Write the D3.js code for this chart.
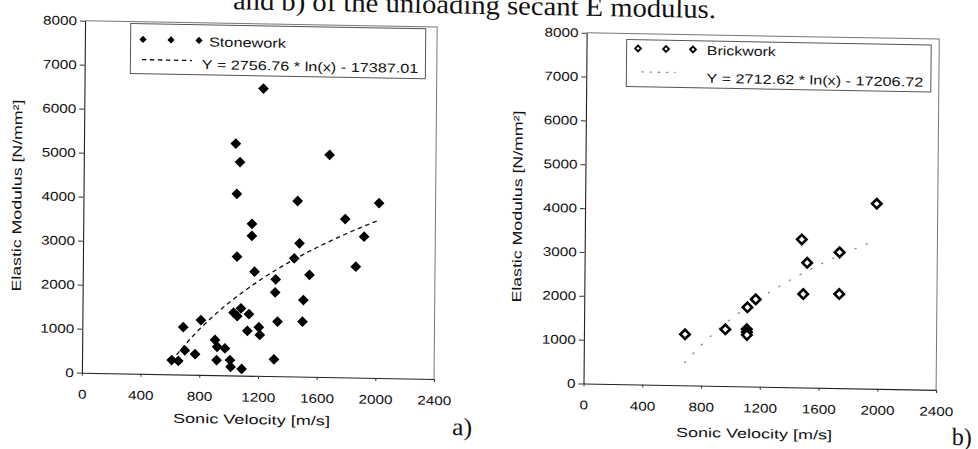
<!DOCTYPE html>
<html>
<head>
<meta charset="utf-8">
<script src="https://cdn.jsdelivr.net/npm/d3@7"></script>
<style>
  html, body { margin: 0; padding: 0; background: #fff; }
  svg { display: block; }
</style>
</head>
<body>
<div id="chart"></div>
<script>
// ---------- data ----------
const xTicks = [0, 400, 800, 1200, 1600, 2000, 2400];
const yTicks = [0, 1000, 2000, 3000, 4000, 5000, 6000, 7000, 8000];

const stoneV = [1220,1035,1065,1675,1045,1460,2015,1785,1150,1150,1915,1475,1050,1440,1860,1170,1545,1315,1312,1505,
                1080,1030,1055,1135,808,688,1330,1500,1125,1203,1210,905,920,973,700,770,611,656,917,1008,1013,1088,1308];
const stoneE = [6530,5270,4850,5050,4125,3990,3975,3600,3450,3180,3205,3030,2700,2685,2520,2365,2315,2200,1905,1740,
                1525,1425,1350,1400,1245,1075,1240,1250,1020,1105,930,800,645,610,550,470,325,310,340,345,195,150,380];

const brickV = [1985,1477,1735,1515,1490,1735,1167,1111,962,1108,1109,1109,688];
const brickE = [4220,3375,3095,2845,2130,2145,1990,1805,1295,1305,1240,1175,1165];

const stoneCoef = [2756.76, -17387.01];   // Y = a*ln(x) + b
const brickCoef = [2712.62, -17206.72];

const seriesNames = ["Stonework", "Brickwork"];
const fitLabels = ["Y = 2756.76 * ln(x) - 17387.01", "Y = 2712.62 * ln(x) - 17206.72"];
const xTitle = "Sonic Velocity [m/s]";
const yTitle = "Elastic Modulus [N/mm\u00B2]";
const captionText = "and b) of the unloading secant E modulus.";
const panelTags = ["a)", "b)"];

// ---------- drawing ----------
const W = 978, H = 449;
const SANS = "'Liberation Sans', Arial, sans-serif";
const SERIF = "'Liberation Serif', 'Times New Roman', serif";
const svg = d3.select("#chart").append("svg").attr("width", W).attr("height", H);
svg.append("rect").attr("width", W).attr("height", H).attr("fill", "#fff");

// the scanned page is slightly skewed
const root = svg.append("g").attr("transform", "matrix(1,0.018,-0.009,1,2.03,-8.8)");

function txt(g, x, y, s, size, len, anchor, family) {
  return g.append("text")
    .attr("x", x).attr("y", y)
    .style("font-size", size + "px")
    .style("font-family", family || SANS)
    .attr("fill", "#111")
    .attr("text-anchor", anchor || "start")
    .attr("textLength", len).attr("lengthAdjust", "spacingAndGlyphs")
    .text(s);
}

// caption (cut off at top, as in the scan)
txt(root, 231, 14, captionText, 27, 483, "start", SERIF);

const diamond = (area) => d3.symbol().type(d3.symbolSquare).size(area)();

const panels = [
  { x0: 83.3, x1: 435.4, yTop: 28, yBot: 380, V: stoneV, E: stoneE, coef: stoneCoef, filled: true,
    legend: { x0: 129, y0: 30, x1: 424, y1: 80, mk: [141.4, 169.4, 197.4], mkY: 45.7, nameX: 207.4, nameY: 51.5, nameLen: 77,
              lineX: [140.5, 190.5], lineY: 65.9, fitX: 200.3, fitY: 74.3, fitLen: 216.7 },
    yLab: [16.8, 204], xLab: [253.3, 428.3, 157], tag: [453.9, 435.7] },
  { x0: 584.9, x1: 937.5, yTop: 31, yBot: 381.8, V: brickV, E: brickE, coef: brickCoef, filled: false,
    legend: { x0: 625, y0: 37, x1: 929.5, y1: 84, mk: [636.4, 664.4, 691.4], mkY: 45.8, nameX: 705.2, nameY: 51.1, nameLen: 69,
              lineX: [640.6, 673.6], lineY: 69.2, fitX: 705.2, fitY: 78.8, fitLen: 216.7 },
    yLab: [517.3, 206], xLab: [755.9, 433.3, 156], tag: [953.7, 436.7] }
];

panels.forEach((p, i) => {
  const g = root.append("g");
  const x = d3.scaleLinear().domain([0, 2400]).range([p.x0, p.x1]);
  const y = d3.scaleLinear().domain([0, 8000]).range([p.yBot, p.yTop]);

  // plot frame (top/right lighter)
  g.append("path")
    .attr("d", `M${p.x0},${p.yTop}H${p.x1}V${p.yBot}`)
    .attr("fill", "none").attr("stroke", "#777").attr("stroke-width", 1);

  // axes
  const ya = d3.axisLeft(y).tickValues(yTicks).tickFormat(d3.format("d")).tickSize(5).tickPadding(3).tickSizeOuter(0);
  const yg = g.append("g").attr("transform", `translate(${p.x0},0)`).call(ya);
  const xa = d3.axisBottom(x).tickValues(xTicks).tickFormat(d3.format("d")).tickSize(3).tickPadding(14).tickSizeOuter(0);
  const xg = g.append("g").attr("transform", `translate(0,${p.yBot})`).call(xa);
  [yg, xg].forEach(ag => {
    ag.select(".domain").attr("stroke", "#222").attr("stroke-width", 1.1);
    ag.selectAll(".tick line").attr("stroke", "#333");
    ag.selectAll(".tick text")
      .style("font-size", "12.5px").style("font-family", SANS).attr("fill", "#111")
      .attr("lengthAdjust", "spacingAndGlyphs")
      .attr("textLength", function () { return this.textContent.length * 8.5; });
  });

  // trend line
  const xmin = d3.min(p.V), xmax = d3.max(p.V);
  const fitPts = d3.range(0, 61).map(k => {
    const v = xmin + (xmax - xmin) * k / 60;
    return [v, p.coef[0] * Math.log(v) + p.coef[1]];
  });
  const line = d3.line().x(d => x(d[0])).y(d => y(d[1]));
  const trend = g.append("path").attr("d", line(fitPts)).attr("fill", "none");
  if (p.filled) trend.attr("stroke", "#111").attr("stroke-width", 1.3).attr("stroke-dasharray", "4.5,3.5");
  else trend.attr("stroke", "#888").attr("stroke-width", 1.3).attr("stroke-dasharray", "1.2,11").attr("stroke-linecap", "round");

  // points
  const pts = g.append("g");
  p.V.forEach((v, k) => {
    const path = pts.append("path")
      .attr("d", diamond(p.filled ? 58 : 44))
      .attr("transform", `translate(${x(v)},${y(p.E[k])}) rotate(45)`);
    if (p.filled) path.attr("fill", "#000");
    else path.attr("fill", "#fff").attr("stroke", "#000").attr("stroke-width", 2.6);
  });

  // legend
  const L = p.legend;
  g.append("rect").attr("x", L.x0).attr("y", L.y0).attr("width", L.x1 - L.x0).attr("height", L.y1 - L.y0)
    .attr("fill", "#fff").attr("stroke", "#555").attr("stroke-width", 1);
  L.mk.forEach(mx => {
    const m = g.append("path").attr("d", diamond(p.filled ? 26 : 17))
      .attr("transform", `translate(${mx},${L.mkY}) rotate(45)`);
    if (p.filled) m.attr("fill", "#000");
    else m.attr("fill", "#fff").attr("stroke", "#000").attr("stroke-width", 1.8);
  });
  txt(g, L.nameX, L.nameY, seriesNames[i], 13, L.nameLen);
  const ll = g.append("line").attr("x1", L.lineX[0]).attr("x2", L.lineX[1]).attr("y1", L.lineY).attr("y2", L.lineY);
  if (p.filled) ll.attr("stroke", "#111").attr("stroke-width", 1.3).attr("stroke-dasharray", "4.5,3.5");
  else ll.attr("stroke", "#888").attr("stroke-width", 1.3).attr("stroke-dasharray", "1.2,7").attr("stroke-linecap", "round");
  txt(g, L.fitX, L.fitY, fitLabels[i], 13, L.fitLen);

  // axis titles
  g.append("text")
    .attr("transform", `translate(${p.yLab[0]},${p.yLab[1]}) rotate(-90)`)
    .attr("text-anchor", "middle").attr("dominant-baseline", "central")
    .style("font-size", "13px").style("font-family", SANS).attr("fill", "#111")
    .attr("textLength", 192).attr("lengthAdjust", "spacingAndGlyphs")
    .text(yTitle);
  txt(g, p.xLab[0], p.xLab[1], xTitle, 13, p.xLab[2], "middle");

  // panel tag
  txt(g, p.tag[0], p.tag[1], panelTags[i], 25, 20, "start", SERIF);
});
</script>
</body>
</html>
